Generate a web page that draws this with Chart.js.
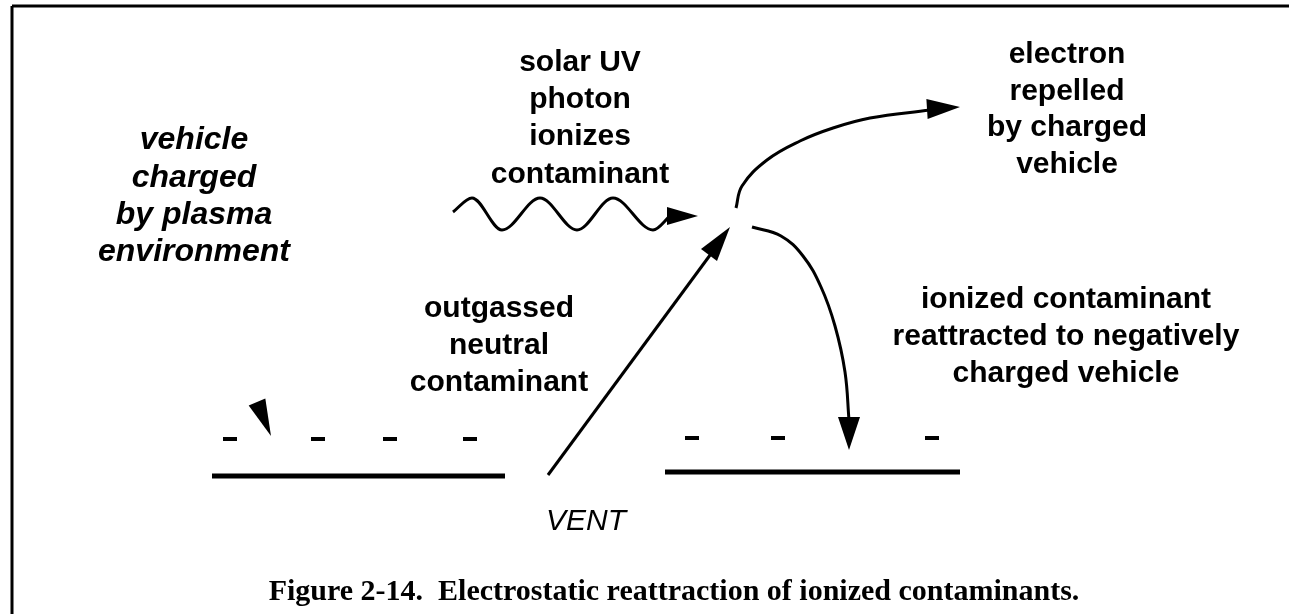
<!DOCTYPE html>
<html><head><meta charset="utf-8">
<script src="https://cdn.jsdelivr.net/npm/chart.js@4"></script>
<style>html,body{margin:0;padding:0;background:#fff}#wrap{width:1289px;height:614px;position:relative}</style>
</head><body><div id="wrap"><canvas id="c"></canvas></div>
<script>
// ---- diagram data (in picture units: x right, y down) ----
const frameTop = [[12,6],[1289,6]];
const frameLeft = [[12,6],[12,614]];
const leftPlate = [[212,476],[505,476]];
const rightPlate = [[665,472],[960,472]];
const leftCharges = [[230,439],[318,439],[390,439],[470,439]];
const rightCharges = [[692,438],[778,438],[932,438]];
const ventPath = [[548,475],[716,247]];
const wavePath = [[453,212],[472,198],[502,230],[540,198],[577,230],[613,198],[653,230],[670,216]];
const electronPath = [[736,208],[742,186],[767,160],[800,141],[833,128],[870,118],[930,110]];
const reattractPath = [[752,227],[781,236],[803,256],[821,287],[835,326],[845,372],[849,420]];
// arrowheads: [tipX, tipY, baseCenterX, baseCenterY, halfWidth]
const arrowHeads = [
  [698,216,667,216,9],
  [730,227,709,255,10],
  [960,107,927,109,10],
  [849,450,849,417,11],
  [271,436,257,402,9]
];
const textBlocks = [
  {lines:['vehicle','charged','by plasma','environment'], x:194, y:[140,178,215,252], style:'italic bold', size:32},
  {lines:['solar UV','photon','ionizes','contaminant'], x:580, y:[63,100,137,175], style:'bold', size:30},
  {lines:['electron','repelled','by charged','vehicle'], x:1067, y:[55,92,128,165], style:'bold', size:30},
  {lines:['outgassed','neutral','contaminant'], x:499, y:[309,346,383], style:'bold', size:30},
  {lines:['ionized contaminant','reattracted to negatively','charged vehicle'], x:1066, y:[300,337,374], style:'bold', size:30},
  {lines:['VENT'], x:586, y:[522], style:'italic', size:30}
];
const caption = 'Figure 2-14.  Electrostatic reattraction of ionized contaminants.';
const captionPos = [674,592];

const pts = a => a.map(p => ({x:p[0], y:p[1]}));
const lineDs = (a, w, extra) => Object.assign({data:pts(a), showLine:true, borderColor:'#000', borderWidth:w, pointRadius:0, pointHoverRadius:0, tension:0, fill:false}, extra||{});

const drawPlugin = {
  id:'diagram',
  afterDatasetsDraw(chart){
    const ctx = chart.ctx, xs = chart.scales.x, ys = chart.scales.y;
    const X = v => xs.getPixelForValue(v), Y = v => ys.getPixelForValue(v);
    ctx.save();
    ctx.fillStyle = '#000';
    arrowHeads.forEach(h => {
      const tx=X(h[0]), ty=Y(h[1]), bx=X(h[2]), by=Y(h[3]);
      const dx=tx-bx, dy=ty-by, L=Math.hypot(dx,dy), nx=-dy/L, ny=dx/L, w=h[4];
      ctx.beginPath(); ctx.moveTo(tx,ty); ctx.lineTo(bx+nx*w,by+ny*w); ctx.lineTo(bx-nx*w,by-ny*w); ctx.closePath(); ctx.fill();
    });
    ctx.textAlign='center'; ctx.textBaseline='middle';
    textBlocks.forEach(b => {
      ctx.font = b.style + ' ' + b.size + 'px "Liberation Sans", Arial, sans-serif';
      b.lines.forEach((t,i) => ctx.fillText(t, X(b.x), Y(b.y[i])));
    });
    ctx.font = 'bold 30px "Liberation Serif", "Times New Roman", serif';
    ctx.fillText(caption, X(captionPos[0]), Y(captionPos[1]));
    ctx.restore();
  }
};

new Chart(document.getElementById('c'), {
  type:'scatter',
  data:{datasets:[
    lineDs(frameTop,3), lineDs(frameLeft,3),
    lineDs(leftPlate,5), lineDs(rightPlate,5),
    {data:pts(leftCharges), pointStyle:'line', pointRadius:7, pointHoverRadius:7, borderWidth:4, borderColor:'#000', showLine:false},
    {data:pts(rightCharges), pointStyle:'line', pointRadius:7, pointHoverRadius:7, borderWidth:4, borderColor:'#000', showLine:false},
    lineDs(ventPath,3),
    lineDs(wavePath,3,{cubicInterpolationMode:'monotone'}),
    lineDs(electronPath,3,{tension:0.4}),
    lineDs(reattractPath,3,{tension:0.4})
  ]},
  options:{
    responsive:true, maintainAspectRatio:false, animation:false,
    layout:{padding:0, autoPadding:false},
    events:[],
    plugins:{legend:{display:false}, tooltip:{enabled:false}},
    scales:{
      x:{type:'linear', min:0, max:1289, display:false},
      y:{type:'linear', min:0, max:614, reverse:true, display:false}
    }
  },
  plugins:[drawPlugin]
});
</script></body></html>
